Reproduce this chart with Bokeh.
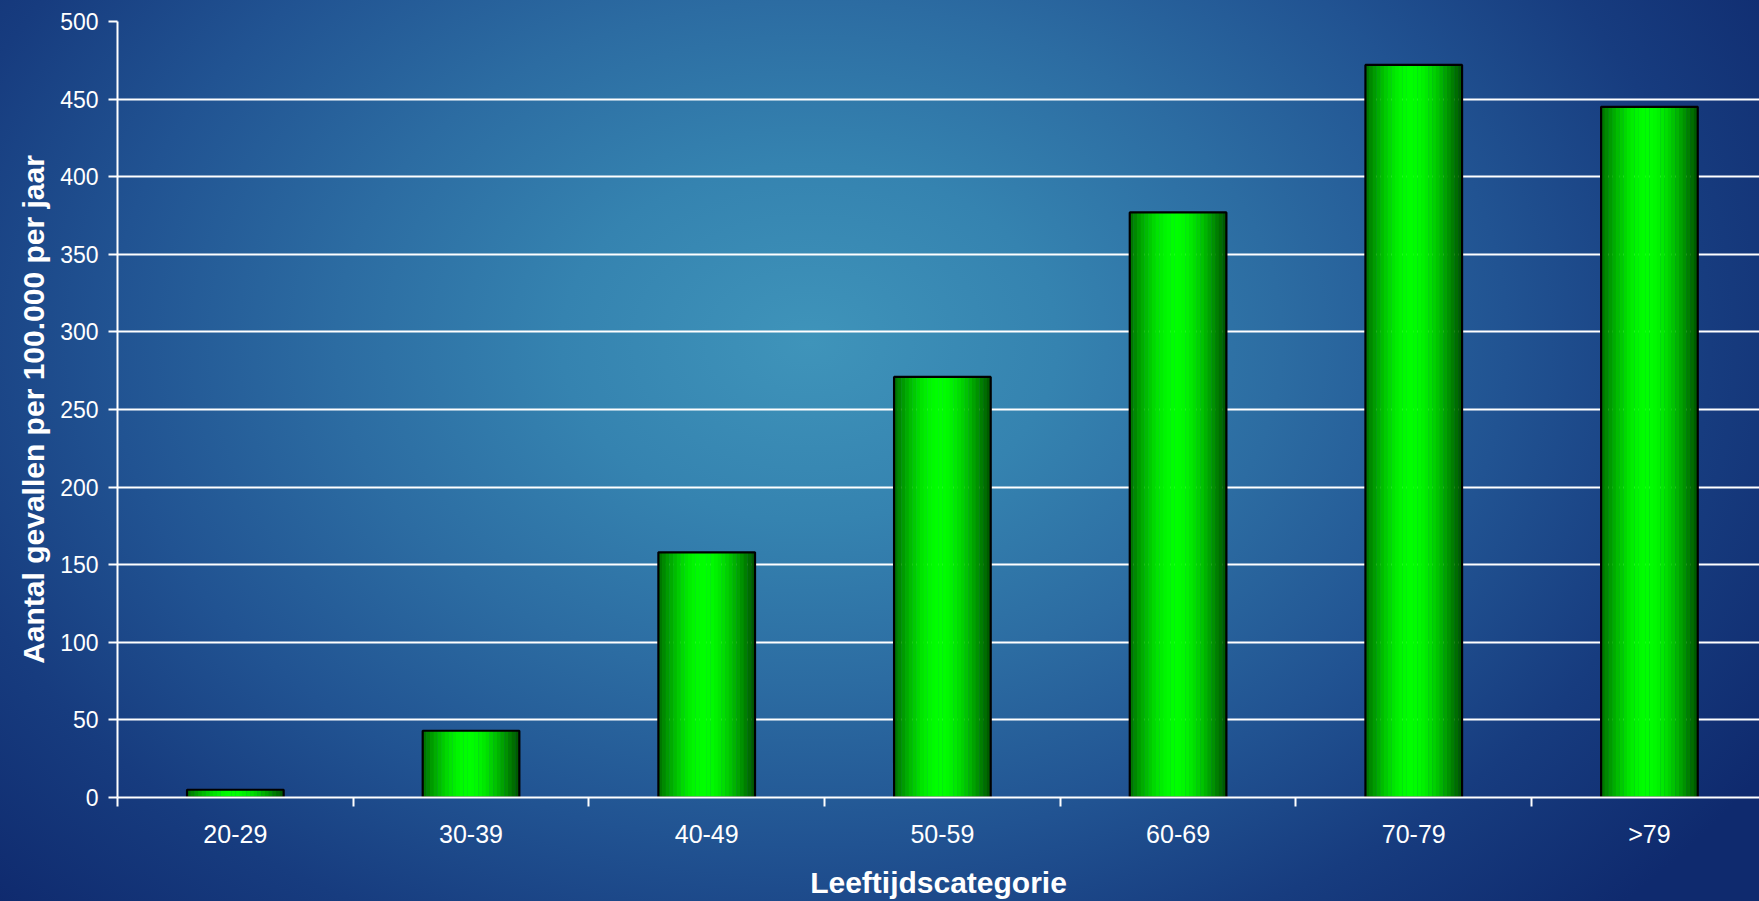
import numpy as np
from bokeh.plotting import figure
from bokeh.models import Range1d, FixedTicker, ColumnDataSource
from bokeh.embed import file_html
from bokeh.resources import INLINE

# Incidence per 100,000 per year by age group
categories = ["20-29", "30-39", "40-49", "50-59", "60-69", "70-79", ">79"]
rates = [5, 43, 158, 271, 377, 472, 445]
y_ticks = [0, 50, 100, 150, 200, 250, 300, 350, 400, 450, 500]

x_title = "Leeftijdscategorie"
y_title = "Aantal gevallen per 100.000 per jaar"

FONT = "Liberation Sans"
W, H = 1759, 901
n = len(categories)
centers = [i + 0.5 for i in range(n)]
bounds = [float(i) for i in range(n + 1)]

p = figure(
    width=W, height=H,
    output_backend="svg", toolbar_location=None,
    x_range=Range1d(0, n - 0.033), y_range=Range1d(0, 500),
    min_border_left=117, min_border_right=0,
    min_border_top=21, min_border_bottom=102,
)
p.outline_line_color = None
p.background_fill_color = None
p.border_fill_color = None
p.styles = {
    "background-image": (
        "radial-gradient(ellipse 64% 90% at 46% 38%, "
        "#3f94ba 0%, #3583b0 22%, #2c6ca2 42%, #215392 62%, "
        "#173c7f 80%, #0f2a6e 100%)"
    )
}

# axes
xa = p.xaxis[0]
xa.ticker = FixedTicker(ticks=centers, minor_ticks=bounds)
xa.major_label_overrides = {c: lab for c, lab in zip(centers, categories)}
xa.major_tick_out = 0
xa.major_tick_in = 0
xa.minor_tick_out = 9
xa.minor_tick_in = 0
xa.minor_tick_line_color = "white"
xa.minor_tick_line_width = 2
xa.axis_line_color = "white"
xa.axis_line_width = 2
xa.major_label_standoff = 13
xa.major_label_text_color = "white"
xa.major_label_text_font = FONT
xa.major_label_text_font_size = "25px"
xa.axis_label = x_title
xa.axis_label_text_color = "white"
xa.axis_label_text_font = FONT
xa.axis_label_text_font_style = "bold"
xa.axis_label_text_font_size = "30px"
xa.axis_label_standoff = 15

ya = p.yaxis[0]
ya.ticker = FixedTicker(ticks=y_ticks, minor_ticks=[])
ya.major_tick_out = 9
ya.major_tick_in = 0
ya.major_tick_line_color = "white"
ya.major_tick_line_width = 2
ya.axis_line_color = "white"
ya.axis_line_width = 2
ya.major_label_standoff = 10
ya.major_label_text_color = "white"
ya.major_label_text_font = FONT
ya.major_label_text_font_size = "23px"
ya.axis_label = y_title
ya.axis_label_text_color = "white"
ya.axis_label_text_font = FONT
ya.axis_label_text_font_style = "bold"
ya.axis_label_text_font_size = "30px"
ya.axis_label_standoff = 7

p.xgrid.visible = False
p.ygrid.ticker = FixedTicker(ticks=y_ticks)
p.ygrid.grid_line_color = "white"
p.ygrid.grid_line_width = 2

# bars: shaded with vertical bands, dark at the sides and bright green near the middle
bar_w = 0.41
n_bands = 26
band_w = bar_w / n_bands
xs, tops, fills = [], [], []
for k in range(n_bands):
    t = (k + 0.5) / n_bands
    d = abs(t - 0.47) / 0.53
    b = 0.33 + 0.67 * np.cos(np.pi / 2 * min(d, 1.0)) ** 1.1
    g = int(round(255 * b))
    col = "#00%02x00" % g
    off = -bar_w / 2 + (k + 0.5) * band_w
    for c, r in zip(centers, rates):
        xs.append(c + off)
        tops.append(r)
        fills.append(col)

bands = ColumnDataSource(dict(x=xs, top=tops, color=fills))
p.vbar(x="x", top="top", bottom=0, width=band_w * 1.08, fill_color="color",
       line_color=None, source=bands)

outline = ColumnDataSource(dict(x=centers, top=rates))
p.vbar(x="x", top="top", bottom=0, width=bar_w, fill_color=None,
       line_color="black", line_width=2.2, source=outline)

open("out.html", "w").write(file_html(p, INLINE))
